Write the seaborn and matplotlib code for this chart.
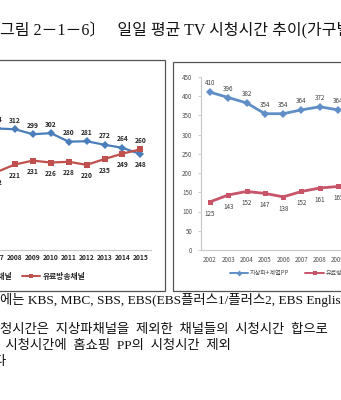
import matplotlib
matplotlib.use("Agg")
import matplotlib.pyplot as plt
import seaborn as sns
import pandas as pd
from matplotlib.patches import Rectangle
from matplotlib.lines import Line2D

# ---------------- data ----------------
left_years = [2007, 2008, 2009, 2010, 2011, 2012, 2013, 2014, 2015]
left_terrestrial = [314, 312, 299, 302, 280, 281, 272, 264, 248]
left_pay = [202, 221, 231, 226, 228, 220, 235, 249, 260]
left_labels = ["지상파채널", "유료방송채널"]

right_years = [2002, 2003, 2004, 2005, 2006, 2007, 2008, 2009]
right_terr_pp = [410, 396, 382, 354, 354, 364, 372, 364]
right_pay = [125, 143, 152, 147, 138, 152, 161, 165]
right_labels = ["지상파+계열PP", "유료방송채널"]
right_yticks = [0, 50, 100, 150, 200, 250, 300, 350, 400, 450]

title_text = "그림 2－1－6〕   일일 평균 TV 시청시간 추이(가구별, 단위: 분)"
note_lines = [
    "에는 KBS, MBC, SBS, EBS(EBS플러스1/플러스2, EBS English) 포함",
    "청시간은  지상파채널을  제외한  채널들의  시청시간  합으로",
    " 시청시간에  홈쇼핑  PP의  시청시간  제외",
    "다",
]

# ---------------- style ----------------
sns.set_theme(style="white")
CJK = ["Noto Sans CJK KR", "DejaVu Sans"]
SERIF = ["Liberation Serif", "Noto Sans CJK KR"]
plt.rcParams["font.family"] = CJK

W, H = 341, 400
fig = plt.figure(figsize=(W / 100, H / 100), dpi=100)
fig.patch.set_facecolor("white")


def fx(px):
    return px / W


def fy(py):
    return 1 - py / H


BLUE_L, RED_L = "#4a7ebb", "#c0504d"
BLUE_R, RED_R = "#5f8fc6", "#c85468"

# chart frames
fig.add_artist(Rectangle((fx(-5), fy(291)), fx(170), (291 - 60) / H, transform=fig.transFigure,
                         fill=False, edgecolor="#555555", lw=0.9))
fig.add_artist(Rectangle((fx(173), fy(291)), fx(180), (291 - 62) / H, transform=fig.transFigure,
                         fill=False, edgecolor="#555555", lw=0.9))

# ---------------- left chart ----------------
lx0 = 15 - 1.5 * 17.9
lx1 = 15 + 7.6 * 17.9
axL = fig.add_axes([fx(lx0), fy(250), fx(lx1 - lx0), 450 * 0.387 / H])
dfL = pd.DataFrame({"year": left_years * 2,
                    "value": left_terrestrial + left_pay,
                    "series": [left_labels[0]] * len(left_years) + [left_labels[1]] * len(left_years)})
sns.lineplot(data=dfL, x="year", y="value", hue="series", style="series",
             palette=[BLUE_L, RED_L], markers=["D", "s"], dashes=False,
             markersize=4, linewidth=1.6, markeredgewidth=0, ax=axL, legend=False)
axL.set_xlim(2006.5, 2015.6)
axL.set_ylim(0, 450)
axL.set_xticks(left_years)
axL.set_xticklabels([str(y) for y in left_years], fontsize=4.8, fontweight="bold", color="#262626")
axL.set_yticks([])
axL.set_xlabel("")
axL.set_ylabel("")
for s in ["left", "right", "top"]:
    axL.spines[s].set_visible(False)
axL.spines["bottom"].set_color("#c8c8c8")
axL.spines["bottom"].set_linewidth(0.8)
axL.tick_params(axis="x", length=0, pad=3)
axL.patch.set_alpha(0)
for yr, b, r in zip(left_years, left_terrestrial, left_pay):
    b_up = b >= r
    axL.annotate(str(b), (yr, b), textcoords="offset pixels", xytext=(0, 9 if b_up else -10),
                 ha="center", va="center", fontsize=4.8, fontweight="bold", color="#262626")
    axL.annotate(str(r), (yr, r), textcoords="offset pixels", xytext=(0, -11 if b_up else 9),
                 ha="center", va="center", fontsize=4.8, fontweight="bold", color="#262626")

hL = [Line2D([], [], color=BLUE_L, marker="D", markersize=3.5, lw=1.4, markeredgewidth=0),
      Line2D([], [], color=RED_L, marker="s", markersize=3.5, lw=1.4, markeredgewidth=0)]
fig.legend(hL, left_labels, ncol=2, loc="center left", bbox_to_anchor=(fx(-44), fy(276)),
           frameon=False, prop={"family": CJK, "size": 5.6, "weight": "bold"},
           handlelength=2.3, handletextpad=0.3, columnspacing=1.3, borderpad=0, borderaxespad=0)

# ---------------- right chart ----------------
rx0 = 210 - 0.5 * 18.3
rx1 = 210 + 13.5 * 18.3
axR = fig.add_axes([fx(rx0), fy(250), fx(rx1 - rx0), 450 * 0.385 / H])
dfR = pd.DataFrame({"year": right_years * 2,
                    "value": right_terr_pp + right_pay,
                    "series": [right_labels[0]] * len(right_years) + [right_labels[1]] * len(right_years)})
sns.lineplot(data=dfR, x="year", y="value", hue="series", style="series",
             palette=[BLUE_R, RED_R], markers=["D", "s"], dashes=False,
             markersize=3.6, linewidth=2.0, markeredgewidth=0, ax=axR, legend=False)
axR.set_xlim(2001.5, 2015.5)
axR.set_ylim(0, 450)
axR.set_xticks(list(range(2002, 2016)))
axR.set_xticklabels([str(y) for y in range(2002, 2016)], fontsize=4.5, color="#505050")
axR.set_yticks(right_yticks)
axR.set_yticklabels([str(v) for v in right_yticks], fontsize=4.5, color="#505050")
axR.set_xlabel("")
axR.set_ylabel("")
for s in ["right", "top"]:
    axR.spines[s].set_visible(False)
for s in ["left", "bottom"]:
    axR.spines[s].set_color("#c8c8c8")
    axR.spines[s].set_linewidth(0.8)
axR.tick_params(axis="x", length=0, pad=4)
axR.tick_params(axis="y", length=2, width=0.6, color="#c8c8c8", pad=4, left=True)
axR.patch.set_alpha(0)
for yr, b, r in zip(right_years, right_terr_pp, right_pay):
    axR.annotate(str(b), (yr, b), textcoords="offset pixels", xytext=(0, 9),
                 ha="center", va="center", fontsize=4.5, color="#404040")
    axR.annotate(str(r), (yr, r), textcoords="offset pixels", xytext=(0, -12),
                 ha="center", va="center", fontsize=4.5, color="#404040")

hR = [Line2D([], [], color=BLUE_R, marker="D", markersize=3, lw=1.4, markeredgewidth=0),
      Line2D([], [], color=RED_R, marker="s", markersize=3.5, lw=1.4, markeredgewidth=0)]
fig.legend(hR, right_labels, ncol=2, loc="center left", bbox_to_anchor=(fx(230), fy(273)),
           frameon=False, prop={"family": CJK, "size": 4.4},
           handlelength=3.0, handletextpad=0.3, columnspacing=2.6, borderpad=0, borderaxespad=0,
           labelcolor="#505050")

# ---------------- document text ----------------
fig.text(fx(0), fy(31), title_text, ha="left", va="center", fontsize=11.5,
         family=SERIF, color="#111111")
note_pos = [(0, 300), (0, 330), (2, 346), (-6, 362)]
for (px, py), line in zip(note_pos, note_lines):
    fig.text(fx(px), fy(py), line, ha="left", va="center", fontsize=9.6,
             family=SERIF, color="#111111")

fig.savefig("out.png", dpi=100)
